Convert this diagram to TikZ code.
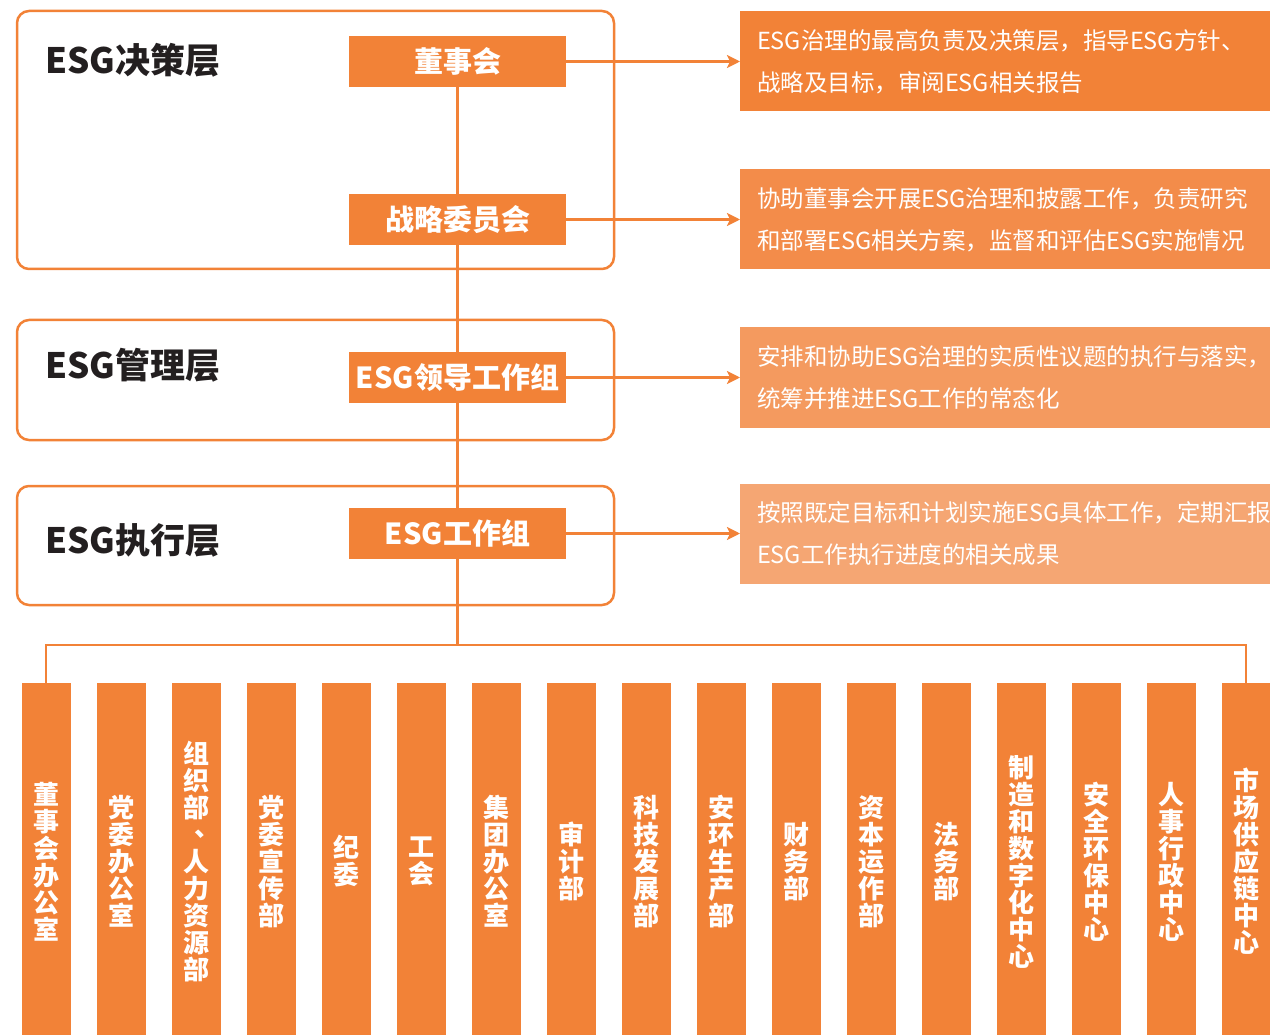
\documentclass[tikz,border=0pt]{standalone}
\usepackage{fontspec}
\setmainfont{Noto Sans CJK SC}
\usetikzlibrary{arrows.meta, positioning}
\definecolor{esgorange}{HTML}{F28237}
\definecolor{tintB}{HTML}{F38C4A}
\definecolor{tintC}{HTML}{F49A5F}
\definecolor{tintD}{HTML}{F5A673}
\definecolor{inkdark}{HTML}{231F20}

\begin{document}
\begin{tikzpicture}[x=1pt, y=-1pt]
\tikzstyle{layer}=[rectangle, rounded corners=12pt, draw=esgorange, line width=2.5pt, minimum width=597pt]
\tikzstyle{title}=[anchor=west, inner sep=0pt, text=inkdark, font=\bfseries\fontsize{35}{35}\selectfont]
\tikzstyle{organ}=[rectangle, fill=esgorange, text=white, minimum width=217pt, minimum height=51pt, inner sep=0pt, outer sep=0pt, font=\bfseries\fontsize{29}{29}\selectfont]
\tikzstyle{duty}=[rectangle, text=white, minimum height=100pt, text width=520pt, inner xsep=17pt, outer sep=0pt, align=left, font=\fontsize{23.5}{42}\selectfont]
\tikzstyle{dept}=[rectangle, fill=esgorange, text=white, minimum width=49pt, minimum height=357pt, inner sep=0pt, outer sep=0pt, align=center, font=\bfseries\fontsize{26}{27}\selectfont]
\tikzstyle{connect}=[-{Stealth[length=13pt, width=13pt, inset=3pt]}, draw=esgorange, line width=2.5pt]
\tikzstyle{link}=[draw=esgorange, line width=2.5pt]
    \useasboundingbox (0,0) rectangle (1270,1035);
    % three layers
    \node[layer, minimum height=258pt] (decide) at (315.5,140) { };
    \node[layer, minimum height=120pt] (manage) at (315.5,380) { };
    \node[layer, minimum height=119pt] (execute) at (315.5,545.5) { };
    \node[title] (decideT) at (45,60) {ESG决策层};
    \node[title] (manageT) at (45,365) {ESG管理层};
    \node[title] (executeT) at (45,540) {ESG执行层};
    % bodies
    \node[organ] (board) at (457.5,61.5) {董事会};
    \node[organ] (strategy) [below=107pt of board] {战略委员会};
    \node[organ] (leader) [below=107pt of strategy] {ESG领导工作组};
    \node[organ] (workgrp) [below=105pt of leader] {ESG工作组};
    % duties
    \node[duty, fill=esgorange] (dutyA) [right=174pt of board] {ESG治理的最高负责及决策层，指导ESG方针、\\战略及目标，审阅ESG相关报告};
    \node[duty, fill=tintB] (dutyB) [right=174pt of strategy] {协助董事会开展ESG治理和披露工作，负责研究\\和部署ESG相关方案，监督和评估ESG实施情况};
    \node[duty, fill=tintC] (dutyC) [right=174pt of leader] {安排和协助ESG治理的实质性议题的执行与落实，\\统筹并推进ESG工作的常态化};
    \node[duty, fill=tintD] (dutyD) [right=174pt of workgrp] {按照既定目标和计划实施ESG具体工作，定期汇报\\ESG工作执行进度的相关成果};
    % departments
    \node[dept] (d1) at (46,861.5) {董\\事\\会\\办\\公\\室};
    \node[dept] (d2) [right=26pt of d1] {党\\委\\办\\公\\室};
    \node[dept] (d3) [right=26pt of d2] {组\\织\\部\\\makebox[1em][l]{\hspace{0.45em}\smash{\raisebox{0.3em}{、}}}\\人\\力\\资\\源\\部};
    \node[dept] (d4) [right=26pt of d3] {党\\委\\宣\\传\\部};
    \node[dept] (d5) [right=26pt of d4] {纪\\委};
    \node[dept] (d6) [right=26pt of d5] {工\\会};
    \node[dept] (d7) [right=26pt of d6] {集\\团\\办\\公\\室};
    \node[dept] (d8) [right=26pt of d7] {审\\计\\部};
    \node[dept] (d9) [right=26pt of d8] {科\\技\\发\\展\\部};
    \node[dept] (d10) [right=26pt of d9] {安\\环\\生\\产\\部};
    \node[dept] (d11) [right=26pt of d10] {财\\务\\部};
    \node[dept] (d12) [right=26pt of d11] {资\\本\\运\\作\\部};
    \node[dept] (d13) [right=26pt of d12] {法\\务\\部};
    \node[dept] (d14) [right=26pt of d13] {制\\造\\和\\数\\字\\化\\中\\心};
    \node[dept] (d15) [right=26pt of d14] {安\\全\\环\\保\\中\\心};
    \node[dept] (d16) [right=26pt of d15] {人\\事\\行\\政\\中\\心};
    \node[dept] (d17) [right=26pt of d16] {市\\场\\供\\应\\链\\中\\心};
    \coordinate (bus) at (457.5,645);
    \draw[link] (board) -- (strategy) -- (leader) -- (workgrp) -- (bus);
    \draw[link] (d1.north) |- (bus) -| (d17.north);
    \path (board) edge [connect] (dutyA)
          (strategy) edge [connect] (dutyB)
          (leader) edge [connect] (dutyC)
          (workgrp) edge [connect] (dutyD);
\end{tikzpicture}
\end{document}
